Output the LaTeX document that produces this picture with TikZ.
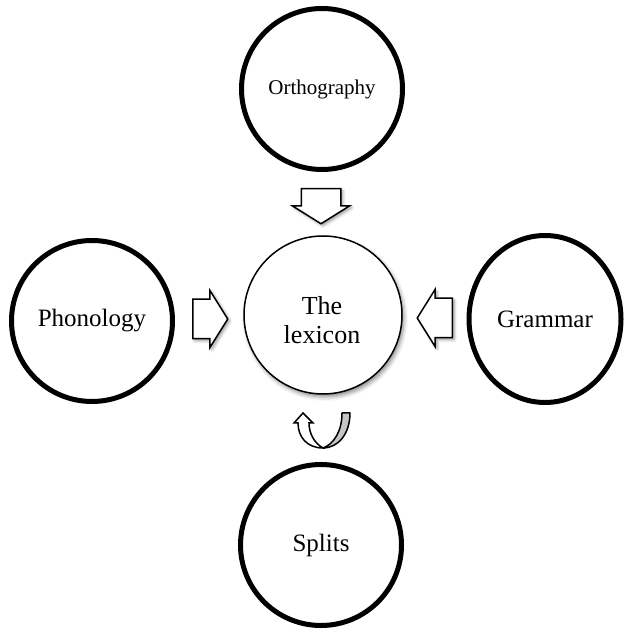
\documentclass[tikz,border=0pt]{standalone}
\usepackage{fontspec}
\setmainfont{Liberation Serif}
\usepackage{tikz}
\usetikzlibrary{shapes.geometric,shapes.arrows,shadows.blur}

\begin{document}
\begin{tikzpicture}
        [x=1pt,y=1pt,
         area/.style={circle,draw,line width=5pt,minimum size=161pt,inner sep=0pt,
                      font=\fontsize{25}{29}\selectfont,align=center},
         lexbox/.style={circle,draw,line width=1.5pt,fill=white,minimum size=158pt,inner sep=0pt,
                      font=\fontsize{25}{29}\selectfont,align=center,
                      blur shadow={shadow xshift=2pt,shadow yshift=-3pt,shadow blur radius=4pt,shadow opacity=45}},
         blockarrow/.style={single arrow,draw,line width=1.5pt,fill=white,minimum height=35pt,anchor=tail,
                      inner xsep=0pt,inner ysep=19pt,single arrow head extend=9pt,single arrow tip angle=116,
                      blur shadow={shadow xshift=2pt,shadow yshift=-2pt,shadow blur radius=3pt,shadow opacity=40}}]
        \useasboundingbox (0,0) rectangle (625,629);

        \node[area,font=\fontsize{21}{25}\selectfont] (ortho) at (322,540) {Orthography};
        \node[area] (phon) at (92,308) {Phonology};
        \node[area,ellipse,minimum width=152pt,minimum height=167pt] (gram) at (545,310) {Grammar};
        \node[area] (splits) at (321,84) {Splits};
        \node[lexbox] (lex) at (323,314) {};
        \node[font=\fontsize{26}{29}\selectfont,align=center] (lextext) at (322,309) {The\\lexicon};

        \node[blockarrow,rotate=-90] (ortharr) at (321,441) {};
        \node[blockarrow] (phonarr) at (192,310) {};
        \node[blockarrow,rotate=180] (gramarr) at (453,311) {};

        % u-turn arrow between splits and the lexicon
        \path[draw,line width=1.5pt,fill=gray!45,line join=round]
            (350,216) .. controls (350,195) and (338,181) .. (323,181)
            .. controls (334,185) and (342,198) .. (342,216) -- cycle;
        \path[draw,line width=1.5pt,fill=white,line join=miter]
            (323,181) .. controls (307,181) and (298,192) .. (298,206) -- (294,206) -- (303,216)
            -- (313,206) -- (309,206) .. controls (309,196) and (314,186) .. (323,181) -- cycle;

    \end{tikzpicture}
\end{document}
